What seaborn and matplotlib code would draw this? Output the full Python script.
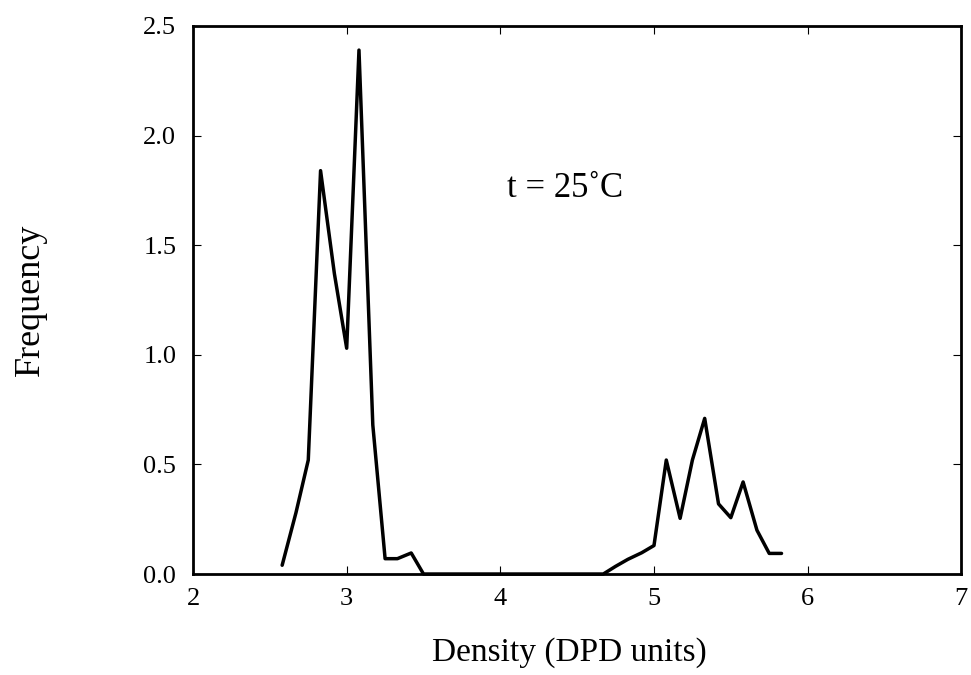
import pandas as pd
import seaborn as sns
import matplotlib.pyplot as plt

# density histogram (bin step ~1/12 DPD units)
density = [2.58, 2.67, 2.75, 2.83, 2.92, 3.00, 3.08, 3.17, 3.25, 3.33, 3.42, 3.50,
           3.58, 3.67, 3.75, 3.83, 3.92, 4.00, 4.08, 4.17, 4.25, 4.33, 4.42, 4.50,
           4.58, 4.67, 4.75, 4.83, 4.92, 5.00, 5.08, 5.17, 5.25, 5.33, 5.42, 5.50,
           5.58, 5.67, 5.75, 5.83]
frequency = [0.04, 0.28, 0.52, 1.84, 1.37, 1.03, 2.39, 0.68, 0.07, 0.07, 0.096, 0.0,
             0.0, 0.0, 0.0, 0.0, 0.0, 0.0, 0.0, 0.0, 0.0, 0.0, 0.0, 0.0,
             0.0, 0.0, 0.035, 0.067, 0.097, 0.13, 0.52, 0.254, 0.52, 0.71, 0.32, 0.257,
             0.42, 0.20, 0.094, 0.094]
x_ticks = [2, 3, 4, 5, 6, 7]
y_ticks = [0.0, 0.5, 1.0, 1.5, 2.0, 2.5]
annotation = "t = 25˚C"

sns.set_style("ticks")
plt.rcParams['font.family'] = ['Liberation Serif', 'DejaVu Serif']
plt.rcParams['text.color'] = 'black'
plt.rcParams['axes.labelcolor'] = 'black'

df = pd.DataFrame({"density": density, "frequency": frequency})

fig = plt.figure(figsize=(9.71, 6.75), dpi=100)
ax = fig.add_axes([0.1988, 0.1496, 0.7912, 0.8119])

sns.lineplot(data=df, x="density", y="frequency", sort=False, color="black",
             lw=2.5, ax=ax, clip_on=False)

ax.set_xlim(2, 7)
ax.set_ylim(0, 2.5)
ax.set_xticks(x_ticks)
ax.set_yticks(y_ticks)
ax.set_yticklabels([f"{v:.1f}" for v in y_ticks])

for s in ax.spines.values():
    s.set_linewidth(2.0)
    s.set_color("black")
ax.tick_params(direction="in", length=6, width=0.8, top=True, right=True,
               labelsize=19, colors="black")
ax.tick_params(axis="x", pad=10)
ax.tick_params(axis="y", pad=12)

ax.set_xlabel("Density (DPD units)", fontsize=24)
ax.set_ylabel("Frequency", fontsize=26)
ax.xaxis.set_label_coords(0.49, -0.115)
ax.yaxis.set_label_coords(-0.19, 0.5)

ax.text(4.42, 1.76, annotation, fontsize=25, ha="center", va="center")

plt.savefig("out.png", dpi=100)
